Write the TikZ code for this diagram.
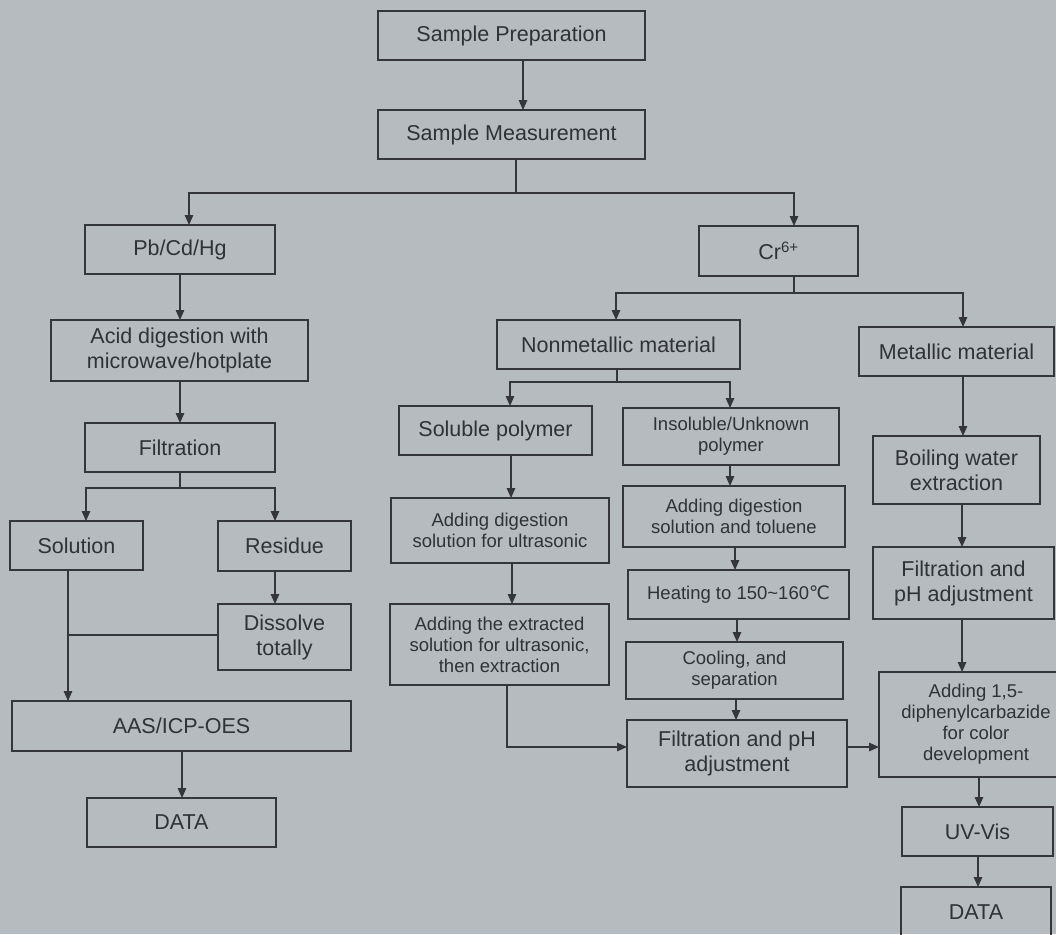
\documentclass[tikz,border=0pt]{standalone}
\usepackage{fontspec}
\setmainfont{Liberation Sans}
\newfontfamily\dejavu{DejaVu Sans}
\usetikzlibrary{arrows.meta,calc}
\definecolor{bg}{RGB}{181,187,190}
\definecolor{ink}{RGB}{52,54,57}
\definecolor{txt}{RGB}{48,50,53}
\begin{document}
\begin{tikzpicture}[x=1pt,y=-1pt,
  every node/.style={inner sep=0pt, outer sep=0pt},
  bx/.style={draw=ink, line width=1.4pt, text=txt, align=center, font=\fontsize{21.5}{25}\selectfont},
  sbx/.style={bx, font=\fontsize{18.5}{21}\selectfont},
  wh/.style 2 args={minimum width=#1, minimum height=#2},
  ar/.style={draw=ink, line width=1.4pt, -{Triangle[length=10pt,width=8.5pt]}},
  ln/.style={draw=ink, line width=1.4pt}]
\fill[bg] (0,0) rectangle (1056,934);
\useasboundingbox (0,0) rectangle (1056,934);
\clip (0,0) rectangle (1056,934);

% left / top part
\node[bx, wh={267pt}{49pt}] (sp) at (511.5,35.5) {Sample Preparation};
\node[bx, wh={267pt}{49pt}] (sm) at (511.5,134.5) {Sample Measurement};
\node[bx, wh={190pt}{49pt}] (pb) at (180,249.5) {Pb/Cd/Hg};
\node[bx, wh={159pt}{50pt}] (cr) at (778.5,251) {Cr\textsuperscript{6+}};
\node[bx, wh={257pt}{61pt}] (acid) at (179.5,350.5) {Acid digestion with\\microwave/hotplate};
\node[bx, wh={190pt}{49pt}] (filt) at (180,447.5) {Filtration};
\node[bx, wh={133pt}{49pt}] (sol) at (76.5,545.5) {Solution};
\node[bx, wh={133pt}{50pt}] (res) at (284.5,546) {Residue};
\node[bx, wh={133pt}{66pt}] (diss) at (284.5,637) {Dissolve\\totally};
\node[bx, wh={339pt}{50pt}] (aas) at (181.5,726) {AAS/ICP-OES};
\node[bx, wh={189pt}{49pt}] (dataL) at (181.5,822.5) {DATA};

% Cr branch
\node[bx, wh={243pt}{49pt}] (nonm) at (618.5,344.5) {Nonmetallic material};
\node[bx, wh={195pt}{49pt}] (metal) at (956.5,351.5) {Metallic material};
\node[bx, wh={193pt}{49pt}] (solp) at (495.5,430.5) {Soluble polymer};
\node[sbx, wh={216pt}{57pt}] (insol) at (731,436.5) {Insoluble/Unknown\\polymer};
\node[sbx, wh={218pt}{65pt}] (addA) at (500,530.5) {Adding digestion\\solution for ultrasonic};
\node[sbx, wh={219pt}{81pt}] (addB) at (499.5,644.5) {Adding the extracted\\solution for ultrasonic,\\then extraction};
\node[sbx, wh={222pt}{61pt}] (addT) at (734,516.5) {Adding digestion\\solution and toluene};
\node[sbx, wh={221pt}{49pt}] (heat) at (738.5,594.5) {Heating to 150\textasciitilde160{\dejavu ℃}};
\node[sbx, wh={217pt}{57pt}] (cool) at (734.5,670.5) {Cooling, and\\separation};
\node[bx, wh={220pt}{67pt}] (filtM) at (737,753.5) {Filtration and pH\\adjustment};
\node[bx, wh={167pt}{68pt}] (boil) at (956.5,470) {Boiling water\\extraction};
\node[bx, wh={181pt}{72pt}] (filtR) at (963.5,583) {Filtration and\\pH adjustment};
\node[sbx, wh={194pt}{105pt}] (addC) at (976,724.5) {Adding 1,5-\\diphenylcarbazide\\for color\\development};
\node[bx, wh={151pt}{49pt}] (uv) at (977.5,831.5) {UV-Vis};
\node[bx, wh={150pt}{50pt}] (dataR) at (976,912) {DATA};

% junction points
\coordinate (j1) at (516,193);
\coordinate (j2) at (180,488);
\coordinate (j3) at (794,293);
\coordinate (j4) at (617,382);

% connectors
\draw[ar] (sp.south -| 523,0) -- (sm.north -| 523,0);
\draw[ln] (sm.south -| j1) -- (j1);
\draw[ar] (j1) -| (pb.north -| 189,0);
\draw[ar] (j1) -| (cr.north -| 794,0);

\draw[ar] (pb.south -| 180,0) -- (acid.north -| 180,0);
\draw[ar] (acid.south -| 180,0) -- (filt.north -| 180,0);
\draw[ln] (filt.south -| j2) -- (j2);
\draw[ar] (j2) -| (sol.north -| 86,0);
\draw[ar] (j2) -| (res.north -| 275,0);
\draw[ar] (res.south -| 275,0) -- (diss.north -| 275,0);
\draw[ar] (sol.south -| 68,0) -- (aas.north -| 68,0);
\draw[ln] (diss.west |- 0,635) -- (68,635);
\draw[ar] (aas.south -| 182,0) -- (dataL.north -| 182,0);

\draw[ln] (cr.south -| j3) -- (j3);
\draw[ar] (j3) -| (nonm.north -| 616,0);
\draw[ar] (j3) -| (metal.north -| 963,0);
\draw[ln] (nonm.south -| j4) -- (j4);
\draw[ar] (j4) -| (solp.north -| 510,0);
\draw[ar] (j4) -| (insol.north -| 730,0);

\draw[ar] (solp.south -| 511,0) -- (addA.north -| 511,0);
\draw[ar] (addA.south -| 512,0) -- (addB.north -| 512,0);
\draw[ar] (insol.south -| 730,0) -- (addT.north -| 730,0);
\draw[ar] (addT.south -| 735,0) -- (heat.north -| 735,0);
\draw[ar] (heat.south -| 737,0) -- (cool.north -| 737,0);
\draw[ar] (cool.south -| 736,0) -- (filtM.north -| 736,0);
\draw[ar] (addB.south -| 507,0) |- (filtM.west |- 0,747);
\draw[ar] (filtM.east |- 0,747) -- (addC.west |- 0,747);

\draw[ar] (metal.south -| 963,0) -- (boil.north -| 963,0);
\draw[ar] (boil.south -| 962,0) -- (filtR.north -| 962,0);
\draw[ar] (filtR.south -| 962,0) -- (addC.north -| 962,0);
\draw[ar] (addC.south -| 979,0) -- (uv.north -| 979,0);
\draw[ar] (uv.south -| 978,0) -- (dataR.north -| 978,0);
\end{tikzpicture}
\end{document}
